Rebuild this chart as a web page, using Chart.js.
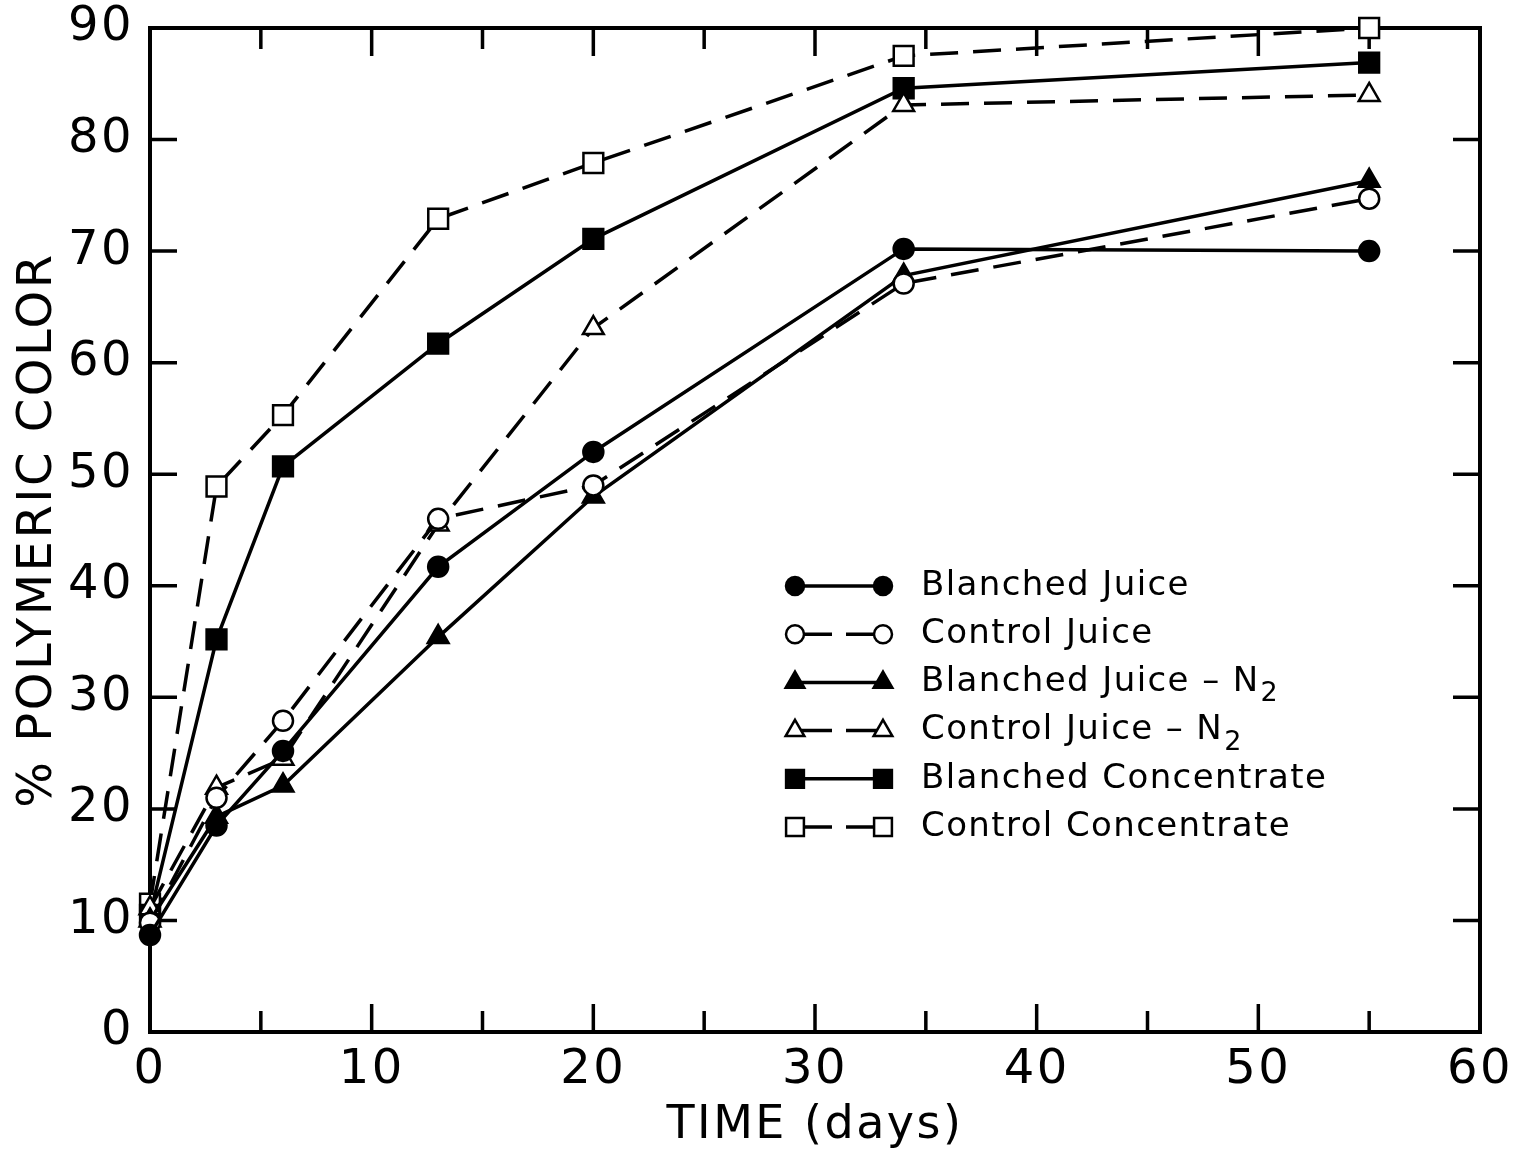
<!DOCTYPE html>
<html>
<head>
<meta charset="utf-8">
<script src="https://cdn.jsdelivr.net/npm/chart.js@4.4.1/dist/chart.umd.min.js"></script>
<style>
  html, body { margin: 0; padding: 0; background: #fff; }
</style>
</head>
<body>
<canvas id="polyChart" width="1530" height="1154"></canvas>
<script>
// storage time (days)
const days = [0, 3, 6, 13, 20, 34, 55];

// % polymeric color
const blanchedJuice   = [8.7, 18.5, 25.2, 41.7, 52.0, 70.2, 70.0];
const controlJuice    = [9.8, 21.0, 27.9, 46.0, 49.0, 67.1, 74.7];
const blanchedJuiceN2 = [10.0, 19.3, 22.1, 35.4, 48.0, 67.8, 76.3];
const controlJuiceN2  = [11.1, 21.9, 24.5, 45.5, 63.1, 83.1, 84.0];
const blanchedConc    = [10.5, 35.2, 50.7, 61.7, 71.1, 84.6, 86.9];
const controlConc     = [11.5, 48.9, 55.3, 72.9, 77.9, 87.5, 90.0];

const seriesLabels = [
  'Blanched Juice', 'Control Juice', 'Blanched Juice - N₂',
  'Control Juice - N₂', 'Blanched Concentrate', 'Control Concentrate'
];

// axis labels and tick marks
const xTickLabels = [0, 10, 20, 30, 40, 50, 60];
const yTickLabels = [0, 10, 20, 30, 40, 50, 60, 70, 80, 90];
const xMinorMarks = [5, 15, 25, 35, 45, 55];

const FONT = 'DejaVu Sans';

function toPoints(values) {
  return days.map((d, i) => ({ x: d, y: values[i] }));
}

// helper to build one series with its marker style
function makeSeries(label, values, style, filled, dashed) {
  const radius = style === 'circle' ? 10 : (style === 'triangle' ? 12 : 14);
  return {
    label: label,
    data: toPoints(values),
    showLine: true,
    tension: 0,
    borderColor: '#000',
    borderWidth: 3.5,
    borderDash: dashed ? [28, 15] : [],
    pointStyle: style,
    pointRadius: radius,
    pointHoverRadius: radius,
    pointBorderWidth: 2.5,
    pointBorderColor: '#000',
    pointBackgroundColor: filled ? '#000' : '#fff',
    clip: false
  };
}

const datasets = [
  makeSeries(seriesLabels[0], blanchedJuice, 'circle', true, false),
  makeSeries(seriesLabels[1], controlJuice, 'circle', false, true),
  makeSeries(seriesLabels[2], blanchedJuiceN2, 'triangle', true, false),
  makeSeries(seriesLabels[3], controlJuiceN2, 'triangle', false, true),
  makeSeries(seriesLabels[4], blanchedConc, 'rect', true, false),
  makeSeries(seriesLabels[5], controlConc, 'rect', false, true)
];

// wider lettering for the axis text, like the hand-lettered original
const spacingPlugin = {
  id: 'spacing',
  beforeDraw(chart) { chart.ctx.letterSpacing = '2.5px'; },
  beforeDatasetsDraw(chart) { chart.ctx.letterSpacing = '0px'; }
};

// frame around the plot with inward tick marks on all four sides
const framePlugin = {
  id: 'frame',
  beforeDatasetsDraw(chart) {
    const ctx = chart.ctx;
    const a = chart.chartArea;
    const xs = chart.scales.x, ys = chart.scales.y;
    ctx.save();
    ctx.strokeStyle = '#000';
    ctx.lineWidth = 4;
    ctx.lineCap = 'butt';
    ctx.strokeRect(a.left, a.top, a.right - a.left, a.bottom - a.top);
    ctx.lineWidth = 3.5;
    ctx.beginPath();
    xTickLabels.concat(xMinorMarks).forEach(v => {
      const len = xMinorMarks.includes(v) ? 21 : 28;
      const px = xs.getPixelForValue(v);
      ctx.moveTo(px, a.top); ctx.lineTo(px, a.top + len);
      ctx.moveTo(px, a.bottom); ctx.lineTo(px, a.bottom - len);
    });
    yTickLabels.forEach(v => {
      const py = ys.getPixelForValue(v);
      ctx.moveTo(a.left, py); ctx.lineTo(a.left + 27, py);
      ctx.moveTo(a.right, py); ctx.lineTo(a.right - 27, py);
    });
    ctx.stroke();
    ctx.restore();
  }
};

// legend drawn as in the original: marker, line, marker, then label
const legendPlugin = {
  id: 'sampleLegend',
  afterDatasetsDraw(chart, args, opts) {
    const ctx = chart.ctx;
    ctx.save();
    chart.data.datasets.forEach((ds, i) => {
      const y = opts.top + i * opts.rowGap;
      const x1 = opts.left, x2 = opts.left + opts.lineLen;
      ctx.strokeStyle = '#000';
      ctx.lineWidth = 3.5;
      ctx.setLineDash([]);
      ctx.beginPath();
      if (ds.borderDash.length) {
        const mid = (x1 + x2) / 2;
        ctx.moveTo(x1, y); ctx.lineTo(mid - 7, y);
        ctx.moveTo(mid + 7, y); ctx.lineTo(x2, y);
      } else {
        ctx.moveTo(x1, y); ctx.lineTo(x2, y);
      }
      ctx.stroke();
      [x1, x2].forEach(px => {
        ctx.fillStyle = ds.pointBackgroundColor;
        ctx.strokeStyle = ds.pointBorderColor;
        ctx.lineWidth = ds.pointBorderWidth;
        Chart.helpers.drawPoint(ctx, {
          pointStyle: ds.pointStyle,
          radius: ds.pointRadius * 0.9,
          rotation: 0,
          borderWidth: ds.pointBorderWidth
        }, px, y);
      });
      // label, with the subscript drawn lower and smaller
      ctx.fillStyle = '#000';
      ctx.textBaseline = 'middle';
      ctx.textAlign = 'left';
      ctx.letterSpacing = '1.4px';
      ctx.font = '34px "' + FONT + '"';
      let text = ds.label;
      let sub = null;
      if (text.endsWith('₂')) { text = text.slice(0, -1); sub = '2'; }
      text = text.replace(' - ', ' – ');
      ctx.fillText(text, opts.textX, y);
      if (sub) {
        const w = ctx.measureText(text).width;
        ctx.font = '27px "' + FONT + '"';
        ctx.fillText(sub, opts.textX + w + 1, y + 12);
      }
    });
    ctx.restore();
  }
};

const ctx = document.getElementById('polyChart').getContext('2d');
new Chart(ctx, {
  type: 'scatter',
  data: { datasets: datasets },
  plugins: [spacingPlugin, framePlugin, legendPlugin],
  options: {
    responsive: false,
    animation: false,
    devicePixelRatio: 1,
    layout: { padding: { top: 28, right: 50, left: 0, bottom: 0 } },
    plugins: {
      legend: { display: false },
      tooltip: { enabled: false },
      sampleLegend: { left: 795, lineLen: 88, textX: 921, top: 586, rowGap: 48.2 }
    },
    scales: {
      x: {
        type: 'linear',
        min: 0,
        max: 60,
        afterBuildTicks: s => { s.ticks = xTickLabels.map(v => ({ value: v })); },
        afterFit: s => { s.height = 122; s.paddingLeft = 0; s.paddingRight = 0; },
        grid: { display: false, drawTicks: false },
        border: { display: false },
        ticks: {
          color: '#000',
          padding: 10,
          maxRotation: 0,
          font: { family: FONT, size: 48 }
        },
        title: {
          display: true,
          text: 'TIME (days)',
          color: '#000',
          font: { family: FONT, size: 46 },
          padding: { top: 0, bottom: 0 }
        }
      },
      y: {
        type: 'linear',
        min: 0,
        max: 90,
        afterBuildTicks: s => { s.ticks = yTickLabels.map(v => ({ value: v })); },
        afterFit: s => { s.width = 150; s.paddingTop = 0; s.paddingBottom = 0; },
        grid: { display: false, drawTicks: false },
        border: { display: false },
        ticks: {
          color: '#000',
          padding: 16,
          font: { family: FONT, size: 48 }
        },
        title: {
          display: true,
          text: '% POLYMERIC COLOR',
          color: '#000',
          font: { family: FONT, size: 48 },
          padding: { top: 10, bottom: 0 }
        }
      }
    }
  }
});
</script>
</body>
</html>
